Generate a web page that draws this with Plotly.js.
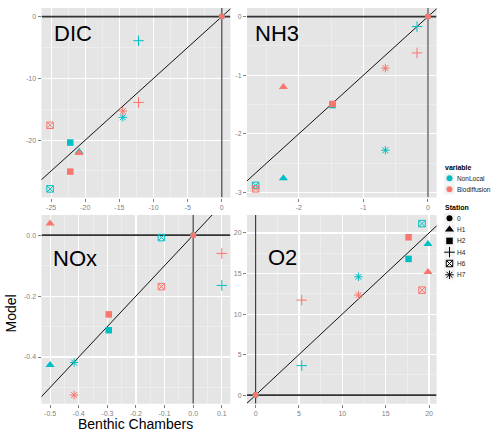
<!DOCTYPE html>
<html><head><meta charset="utf-8">
<script src="https://cdn.plot.ly/plotly-3.0.1.min.js"></script>
<style>html,body{margin:0;padding:0;background:#fff}#chart{width:491px;height:431px}</style>
</head><body><div id="chart"></div>
<script>
// ---------------- data ----------------
const stations = ['0', 'H1', 'H2', 'H4', 'H6', 'H7'];
const variables = ['NonLocal', 'Biodiffusion'];
const panelNames = ['DIC', 'NH3', 'NOx', 'O2'];

const dicChambers     = [0, -20.9, -22.2, -12.2, -25.15, -14.5];
const dicNonLocal     = [0, -21.9, -20.4, -3.9, -27.9, -16.3];
const dicBiodiffusion = [0, -22.1, -25.1, -13.9, -17.6, -15.3];

const nh3Chambers     = [0, -2.24, -1.48, -0.17, -2.67, -0.66];
const nh3NonLocal     = [0, -2.76, -1.51, -0.17, -2.88, -2.28];
const nh3Biodiffusion = [0, -1.20, -1.49, -0.62, -2.94, -0.88];

const noxChambers     = [0, -0.5, -0.295, 0.1, -0.111, -0.416];
const noxNonLocal     = [0, -0.426, -0.312, -0.165, -0.008, -0.418];
const noxBiodiffusion = [0, 0.038, -0.260, -0.060, -0.169, -0.525];

const o2Chambers      = [0, 19.88, 17.64, 5.32, 19.19, 11.86];
const o2NonLocal      = [0, 18.65, 16.8, 3.64, 21.16, 14.59];
const o2Biodiffusion  = [0, 15.2, 19.47, 11.72, 12.95, 12.34];

const dicXTicks = [-25, -20, -15, -10, -5, 0];
const dicXLabels = ['-25', '-20', '-15', '-10', '-5', '0'];
const dicYTicks = [-20, -10, 0];
const dicYLabels = ['-20', '-10', '0'];
const nh3XTicks = [-2, -1, 0];
const nh3XLabels = ['-2', '-1', '0'];
const nh3YTicks = [-3, -2, -1, 0];
const nh3YLabels = ['-3', '-2', '-1', '0'];
const noxXTicks = [-0.5, -0.4, -0.3, -0.2, -0.1, 0, 0.1];
const noxXLabels = ['-0.5', '-0.4', '-0.3', '-0.2', '-0.1', '0.0', '0.1'];
const noxYTicks = [-0.4, -0.2, 0];
const noxYLabels = ['-0.4', '-0.2', '0.0'];
const o2XTicks = [0, 5, 10, 15, 20];
const o2XLabels = ['0', '5', '10', '15', '20'];
const o2YTicks = [0, 5, 10, 15, 20];
const o2YLabels = ['0', '5', '10', '15', '20'];

// ---------------- styles / layout ----------------
const W = 491, H = 431;
const FONT = 'Liberation Sans, Arial, sans-serif';
const colorOf = { NonLocal: '#00BFC4', Biodiffusion: '#F8766D' };
const symbolOf = { '0': 'circle', 'H1': 'triangle-up', 'H2': 'square', 'H4': 'cross-thin-open', 'H6': 'square-x-open', 'H7': 'asterisk-open' };
const sizeOf = { '0': 6, 'H1': 8, 'H2': 6.5, 'H4': 7.5, 'H6': 6.5, 'H7': 7 };
const lineWOf = { '0': 0, 'H1': 0, 'H2': 0, 'H4': 1, 'H6': 1, 'H7': 1 };

const panels = [
  { name: 'DIC', x: dicChambers, nl: dicNonLocal, bd: dicBiodiffusion, xt: dicXTicks, xl: dicXLabels, yt: dicYTicks, yl: dicYLabels, xm: 2.5, ym: 5, lab: [54.3, 33.5] },
  { name: 'NH3', x: nh3Chambers, nl: nh3NonLocal, bd: nh3Biodiffusion, xt: nh3XTicks, xl: nh3XLabels, yt: nh3YTicks, yl: nh3YLabels, xm: 0.5, ym: 0.5, lab: [255.7, 33] },
  { name: 'NOx', x: noxChambers, nl: noxNonLocal, bd: noxBiodiffusion, xt: noxXTicks, xl: noxXLabels, yt: noxYTicks, yl: noxYLabels, xm: 0.05, ym: 0.1, lab: [53.3, 258] },
  { name: 'O2', x: o2Chambers, nl: o2NonLocal, bd: o2Biodiffusion, xt: o2XTicks, xl: o2XLabels, yt: o2YTicks, yl: o2YLabels, xm: 2.5, ym: 2.5, lab: [268.3, 257] }
];

const colPx = [[41.5, 230.4], [247, 436.6]];
const rowPx = [[8, 197.5], [215, 403.7]];

function ggRange(vals) {
  const lo = Math.min(...vals), hi = Math.max(...vals);
  const pad = (hi - lo) * 0.05;
  return [lo - pad, hi + pad];
}

const traces = [];
const layout = {
  width: W, height: H,
  margin: { l: 0, r: 0, t: 0, b: 0, pad: 0 },
  paper_bgcolor: '#ffffff',
  plot_bgcolor: 'rgba(0,0,0,0)',
  showlegend: false,
  font: { family: FONT, color: '#000' },
  shapes: [],
  annotations: []
};

panels.forEach((p, i) => {
  const n = i === 0 ? '' : String(i + 1);
  const xa = 'x' + n, ya = 'y' + n;
  const col = i % 2, row = Math.floor(i / 2);
  const xr = ggRange(p.x);
  const yr = ggRange(p.nl.concat(p.bd));
  const axCommon = {
    showgrid: true, gridcolor: '#ffffff', gridwidth: 1.1,
    zeroline: false, showline: false,
    ticks: 'outside', ticklen: 3, tickwidth: 1, tickcolor: '#7f7f7f',
    tickfont: { size: 7, color: '#7f7f7f', family: FONT },
    tickmode: 'array', fixedrange: true, automargin: false
  };
  layout['xaxis' + n] = Object.assign({}, axCommon, {
    domain: [colPx[col][0] / W, colPx[col][1] / W],
    range: xr, anchor: ya, tickvals: p.xt, ticktext: p.xl,
    minor: { tick0: 0, dtick: p.xm, showgrid: true, gridcolor: '#F2F2F2', gridwidth: 0.6, ticks: '' }
  });
  layout['yaxis' + n] = Object.assign({}, axCommon, {
    domain: [1 - rowPx[row][1] / H, 1 - rowPx[row][0] / H],
    range: yr, anchor: xa, tickvals: p.yt, ticktext: p.yl,
    minor: { tick0: 0, dtick: p.ym, showgrid: true, gridcolor: '#F2F2F2', gridwidth: 0.6, ticks: '' }
  });
  layout.shapes.push({
    type: 'rect', xref: xa + ' domain', yref: ya + ' domain', x0: 0, x1: 1, y0: 0, y1: 1,
    fillcolor: '#E5E5E5', line: { width: 0 }, layer: 'below'
  });
  // reference lines y=0, x=0, y=x
  traces.push({ type: 'scatter', mode: 'lines', xaxis: xa, yaxis: ya, x: xr, y: [0, 0],
    line: { color: '#333333', width: 1.6 }, hoverinfo: 'skip' });
  traces.push({ type: 'scatter', mode: 'lines', xaxis: xa, yaxis: ya, x: [0, 0], y: yr,
    line: { color: '#333333', width: 1.1 }, hoverinfo: 'skip' });
  const lo = Math.min(xr[0], yr[0]), hi = Math.max(xr[1], yr[1]);
  traces.push({ type: 'scatter', mode: 'lines', xaxis: xa, yaxis: ya, x: [lo, hi], y: [lo, hi],
    line: { color: '#111111', width: 1 }, hoverinfo: 'skip' });
  // points
  [['NonLocal', p.nl], ['Biodiffusion', p.bd]].forEach(([v, vals]) => {
    traces.push({
      type: 'scatter', mode: 'markers', xaxis: xa, yaxis: ya, name: v,
      x: p.x, y: vals, cliponaxis: false,
      marker: {
        symbol: stations.map(s => symbolOf[s]),
        size: stations.map(s => sizeOf[s]),
        color: colorOf[v], opacity: 1,
        line: { color: colorOf[v], width: stations.map(s => lineWOf[s]) }
      }
    });
  });
});

// overlay axis in pixel units for labels and legend
layout.xaxis5 = { domain: [0, 1], range: [0, W], visible: false, fixedrange: true, anchor: 'y5' };
layout.yaxis5 = { domain: [0, 1], range: [H, 0], visible: false, fixedrange: true, anchor: 'x5' };

panels.forEach(p => {
  layout.annotations.push({ xref: 'x5', yref: 'y5', x: p.lab[0] - 2.5, y: p.lab[1], xanchor: 'left', yanchor: 'middle',
    text: p.name, showarrow: false, font: { size: 22, color: '#000', family: FONT } });
});

// axis titles
layout.annotations.push({ xref: 'x5', yref: 'y5', x: 135, y: 423.5, xanchor: 'center', yanchor: 'middle',
  text: 'Benthic Chambers', showarrow: false, font: { size: 14, color: '#000', family: FONT } });
layout.annotations.push({ xref: 'x5', yref: 'y5', x: 10.5, y: 314, xanchor: 'center', yanchor: 'middle', textangle: -90,
  text: 'Model', showarrow: false, font: { size: 14, color: '#000', family: FONT } });

// legend
const keyX = 449.5, textX = 454.8, titleX = 442.5;
const varRows = [178.3, 189.3];
const stRow0 = 218.3, stStep = 11.3;
const stRows = stations.map((s, k) => stRow0 + k * stStep);
layout.annotations.push({ xref: 'x5', yref: 'y5', x: titleX, y: 167.3, xanchor: 'left', yanchor: 'middle',
  text: '<b>variable</b>', showarrow: false, font: { size: 7, color: '#000', family: FONT } });
layout.annotations.push({ xref: 'x5', yref: 'y5', x: titleX, y: 207.7, xanchor: 'left', yanchor: 'middle',
  text: '<b>Station</b>', showarrow: false, font: { size: 7, color: '#000', family: FONT } });
variables.forEach((v, k) => {
  layout.annotations.push({ xref: 'x5', yref: 'y5', x: textX, y: varRows[k], xanchor: 'left', yanchor: 'middle',
    text: v, showarrow: false, font: { size: 6.5, color: '#1a1a1a', family: FONT } });
});
stations.forEach((s, k) => {
  layout.annotations.push({ xref: 'x5', yref: 'y5', x: textX, y: stRows[k], xanchor: 'left', yanchor: 'middle',
    text: s, showarrow: false, font: { size: 6.5, color: '#1a1a1a', family: FONT } });
});
varRows.concat(stRows).forEach(yy => {
  layout.shapes.push({ type: 'rect', xref: 'x5', yref: 'y5', x0: keyX - 5.5, x1: keyX + 5.5, y0: yy - 5.5, y1: yy + 5.5,
    fillcolor: '#F2F2F2', line: { color: '#ffffff', width: 0.5 }, layer: 'below' });
});
traces.push({
  type: 'scatter', mode: 'markers', xaxis: 'x5', yaxis: 'y5', cliponaxis: false,
  x: variables.map(() => keyX), y: varRows,
  marker: { symbol: 'circle', size: 6, opacity: 1, color: variables.map(v => colorOf[v]) }, hoverinfo: 'skip'
});
traces.push({
  type: 'scatter', mode: 'markers', xaxis: 'x5', yaxis: 'y5', cliponaxis: false,
  x: stations.map(() => keyX), y: stRows,
  marker: {
    symbol: stations.map(s => symbolOf[s]),
    size: stations.map(s => sizeOf[s]),
    color: '#000000', opacity: 1,
    line: { color: '#000000', width: stations.map(s => lineWOf[s]) }
  }, hoverinfo: 'skip'
});

Plotly.newPlot('chart', traces, layout, { staticPlot: true, displayModeBar: false });
</script>
</body></html>
